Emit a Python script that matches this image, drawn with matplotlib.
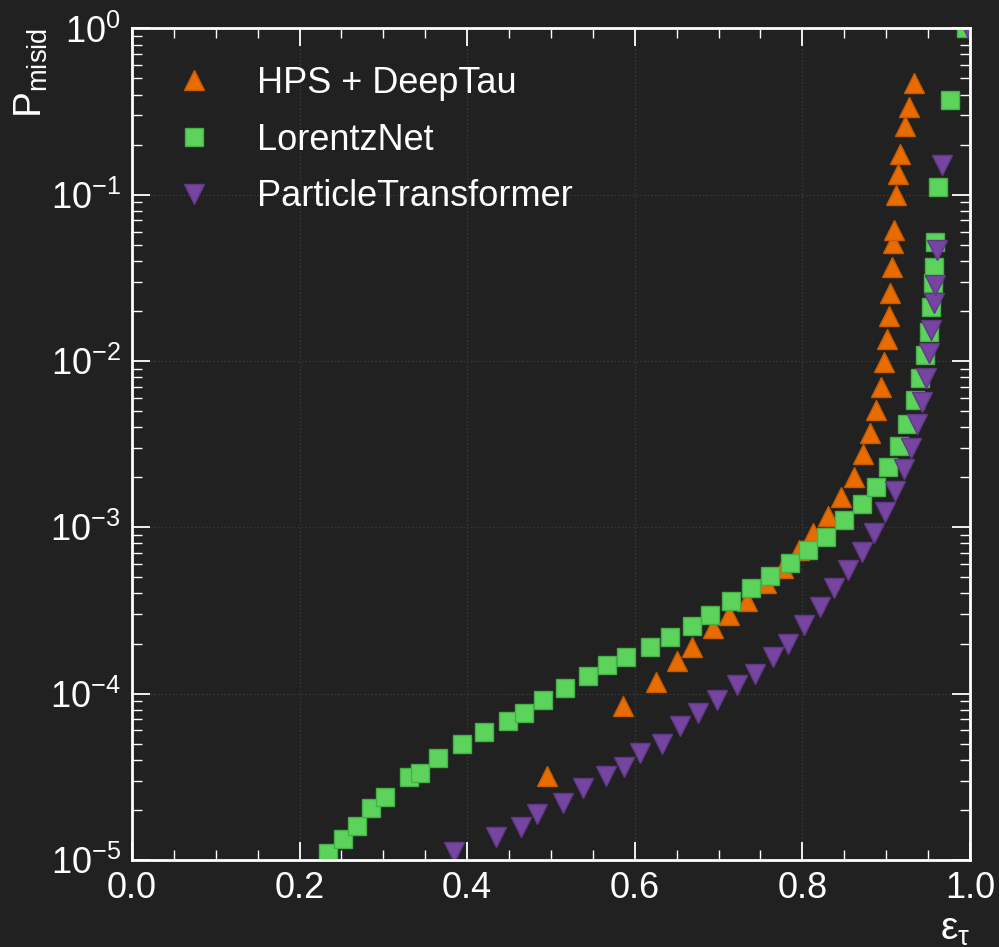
import matplotlib.pyplot as plt
from matplotlib.ticker import MultipleLocator, LogLocator, NullFormatter

# dati
hps_x = [0.495, 0.586, 0.625, 0.650, 0.668, 0.693, 0.712, 0.734, 0.756, 0.777, 0.796,
         0.813, 0.830, 0.846, 0.861, 0.872, 0.881, 0.888, 0.894, 0.897, 0.901, 0.903,
         0.905, 0.907, 0.908, 0.909, 0.912, 0.914, 0.916, 0.922, 0.927, 0.933]
hps_y = [3.2e-5, 8.4e-5, 1.18e-4, 1.57e-4, 1.9e-4, 2.47e-4, 2.96e-4, 3.6e-4, 4.6e-4,
         5.7e-4, 7.3e-4, 9.3e-4, 1.17e-3, 1.52e-3, 2.0e-3, 2.75e-3, 3.7e-3, 5.1e-3,
         7.0e-3, 9.8e-3, 1.35e-2, 1.86e-2, 2.56e-2, 3.67e-2, 5.1e-2, 6.15e-2, 0.1,
         0.133, 0.175, 0.26, 0.335, 0.47]

lnet_x = [0.234, 0.252, 0.269, 0.285, 0.302, 0.331, 0.344, 0.365, 0.394, 0.420, 0.449,
          0.468, 0.490, 0.517, 0.544, 0.567, 0.590, 0.618, 0.642, 0.668, 0.690, 0.715,
          0.739, 0.761, 0.785, 0.807, 0.828, 0.850, 0.871, 0.888, 0.902, 0.915, 0.925,
          0.934, 0.940, 0.946, 0.951, 0.953, 0.956, 0.957, 0.958, 0.962, 0.976, 0.995]
lnet_y = [1.1e-5, 1.33e-5, 1.6e-5, 2.05e-5, 2.4e-5, 3.15e-5, 3.35e-5, 4.1e-5, 5.0e-5,
          5.85e-5, 6.8e-5, 7.6e-5, 9.2e-5, 1.08e-4, 1.28e-4, 1.49e-4, 1.66e-4, 1.91e-4,
          2.19e-4, 2.56e-4, 2.98e-4, 3.6e-4, 4.3e-4, 5.1e-4, 6.1e-4, 7.3e-4, 8.7e-4,
          1.1e-3, 1.38e-3, 1.74e-3, 2.3e-3, 3.1e-3, 4.2e-3, 5.8e-3, 7.9e-3, 1.08e-2,
          1.49e-2, 2.12e-2, 2.96e-2, 3.66e-2, 5.2e-2, 0.111, 0.37, 1.0]

part_x = [0.384, 0.435, 0.464, 0.483, 0.514, 0.538, 0.566, 0.587, 0.606, 0.632, 0.654,
          0.676, 0.698, 0.722, 0.743, 0.765, 0.783, 0.802, 0.821, 0.838, 0.854, 0.871,
          0.885, 0.898, 0.910, 0.921, 0.930, 0.937, 0.943, 0.948, 0.951, 0.953, 0.957,
          0.958, 0.961, 0.967, 0.997]
part_y = [1.12e-5, 1.38e-5, 1.58e-5, 1.9e-5, 2.2e-5, 2.7e-5, 3.2e-5, 3.6e-5, 4.4e-5,
          5.0e-5, 6.4e-5, 7.6e-5, 9.2e-5, 1.12e-4, 1.32e-4, 1.66e-4, 2.0e-4, 2.6e-4,
          3.3e-4, 4.3e-4, 5.5e-4, 7.1e-4, 9.3e-4, 1.23e-3, 1.65e-3, 2.25e-3, 3.0e-3,
          4.2e-3, 5.7e-3, 7.9e-3, 1.11e-2, 1.54e-2, 2.23e-2, 2.85e-2, 4.65e-2, 0.15, 1.0]

bg = '#212121'
plt.rcParams['font.family'] = ['Liberation Sans', 'DejaVu Sans']
plt.rcParams['mathtext.default'] = 'regular'

fig = plt.figure(figsize=(9.99, 9.47), dpi=100, facecolor=bg)
ax = fig.add_axes([0.132, 0.092, 0.839, 0.878], facecolor=bg)

ax.plot(hps_x, hps_y, ls='none', marker='^', ms=15, color='#e86c00',
        mec='#c85a00', mew=1, label='HPS + DeepTau')
ax.plot(lnet_x, lnet_y, ls='none', marker='s', ms=13.5, color='#5cd45c',
        mec='#45b045', mew=1, label='LorentzNet')
ax.plot(part_x, part_y, ls='none', marker='v', ms=15, color='#7645a0',
        mec='#613888', mew=1, label='ParticleTransformer')

ax.set_yscale('log')
ax.set_xlim(0, 1)
ax.set_ylim(1e-5, 1)

ax.xaxis.set_major_locator(MultipleLocator(0.2))
ax.xaxis.set_minor_locator(MultipleLocator(0.05))
ax.yaxis.set_major_locator(LogLocator(base=10, numticks=10))
ax.yaxis.set_minor_locator(LogLocator(base=10, subs=range(2, 10), numticks=100))
ax.yaxis.set_minor_formatter(NullFormatter())

ax.tick_params(which='both', direction='in', top=True, right=True, colors='white',
               labelsize=26, pad=8)
ax.tick_params(which='major', length=13, width=1.3)
ax.tick_params(which='minor', length=7, width=1.0)
for s in ax.spines.values():
    s.set_color('white')
    s.set_linewidth(2)

ax.grid(True, which='major', ls=':', color='#3a3a3a', lw=1)

ax.set_ylabel(r'$P_{misid}$', color='white', fontsize=28, loc='top', labelpad=0)
ax.set_xlabel(r'$\epsilon_{\tau}$', color='white', fontsize=28, loc='right')

leg = ax.legend(loc='upper left', bbox_to_anchor=(0.012, 0.996), frameon=False,
                fontsize=26, labelcolor='white', handlelength=1.0, handletextpad=1.25,
                labelspacing=0.6, borderaxespad=0.5, borderpad=0.45, numpoints=1)

fig.savefig('out.png', dpi=100, facecolor=bg)
